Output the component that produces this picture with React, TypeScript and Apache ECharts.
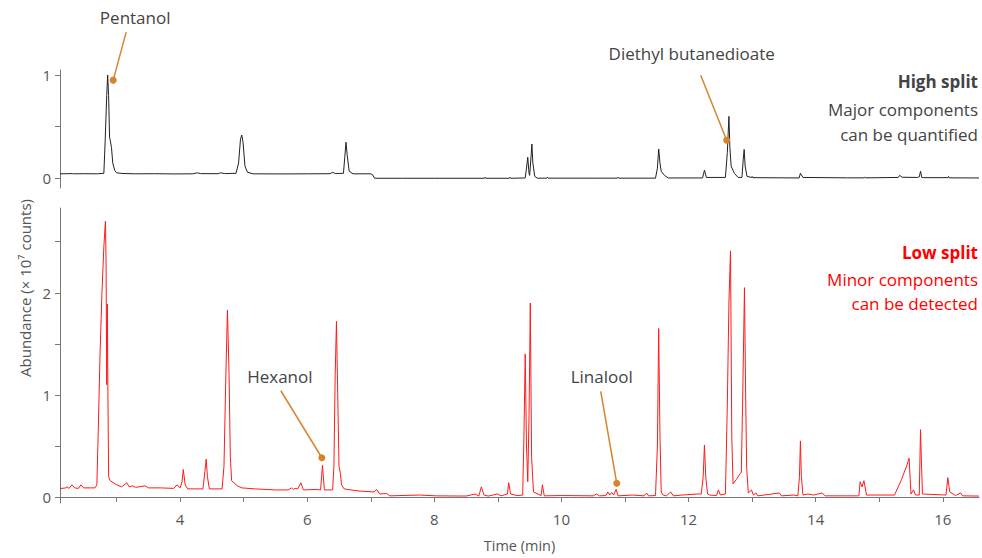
import React, { useEffect, useRef } from "react";
import * as echarts from "echarts";

// ---- Data ----
const highSplitTimes = [
  2.11, 2.3, 2.32, 2.5, 2.7, 2.8, 2.82, 2.845, 2.86, 2.875, 2.89, 2.9, 2.92, 2.94, 2.97, 3.0,
  3.1, 3.3, 3.6, 3.9, 4.2, 4.27, 4.32, 4.6, 4.64, 4.7, 4.88, 4.92, 4.95, 4.97, 4.99, 5.02,
  5.06, 5.15, 5.6, 6.0, 6.36, 6.4, 6.44, 6.57, 6.59, 6.61, 6.63, 6.66, 6.72, 7.0, 7.03, 7.06,
  7.5, 8.0, 8.79, 8.8, 8.81, 9.18, 9.19, 9.2, 9.43, 9.45, 9.47, 9.49, 9.5, 9.52, 9.535, 9.55,
  9.58, 9.62, 9.77, 9.78, 9.79, 10.5, 10.88, 10.89, 10.9, 11.48, 11.51, 11.53, 11.55, 11.57,
  11.62, 11.68, 12.22, 12.25, 12.28, 12.58, 12.61, 12.635, 12.65, 12.67, 12.72, 12.78, 12.84,
  12.86, 12.875, 12.89, 12.92, 12.99, 13.0, 13.01, 13.5, 13.74, 13.76, 13.8, 14.5, 14.76,
  14.77, 14.78, 15.3, 15.32, 15.36, 15.6, 15.63, 15.65, 15.67, 15.7, 16.08, 16.09, 16.1, 16.57,
];
const highSplitValues = [
  0.045, 0.047, 0.045, 0.046, 0.045, 0.05, 0.35, 0.8, 1.0, 0.8, 0.4, 0.37, 0.3, 0.15, 0.08, 0.055,
  0.048, 0.045, 0.046, 0.044, 0.045, 0.055, 0.047, 0.046, 0.055, 0.047, 0.05, 0.15, 0.38, 0.42, 0.35, 0.12,
  0.06, 0.045, 0.044, 0.045, 0.046, 0.06, 0.048, 0.05, 0.2, 0.35, 0.22, 0.07, 0.045, 0.045, 0.035, 0.002,
  0.002, 0.002, 0.002, 0.012, 0.002, 0.002, 0.012, 0.002, 0.005, 0.1, 0.205, 0.05, 0.03, 0.2, 0.333, 0.15,
  0.02, 0.003, 0.003, 0.012, 0.003, 0.003, 0.003, 0.012, 0.003, 0.003, 0.1, 0.285, 0.15, 0.07,
  0.03, 0.005, 0.005, 0.08, 0.01, 0.01, 0.25, 0.6, 0.3, 0.12, 0.05, 0.01, 0.01,
  0.18, 0.28, 0.12, 0.02, 0.01, 0.02, 0.008, 0.006, 0.005, 0.05, 0.01, 0.006, 0.006,
  0.015, 0.006, 0.01, 0.03, 0.012, 0.01, 0.015, 0.07, 0.01, 0.008, 0.008, 0.02, 0.006, 0.005,
];

const lowSplitTimes = [
  2.11, 2.2, 2.22, 2.25, 2.3, 2.34, 2.4, 2.44, 2.48, 2.6, 2.66, 2.69, 2.71, 2.74, 2.77, 2.8,
  2.825, 2.835, 2.845, 2.855, 2.862, 2.875, 2.9, 3.0, 3.08, 3.16, 3.2, 3.25, 3.3, 3.45, 3.5,
  3.69, 3.9, 3.95, 4.0, 4.03, 4.05, 4.08, 4.12, 4.36, 4.39, 4.41, 4.43, 4.46, 4.66, 4.69, 4.72,
  4.745, 4.77, 4.79, 4.81, 4.9, 4.97, 5.18, 5.5, 5.7, 5.75, 5.78, 5.81, 5.85, 5.9, 5.94, 6.14,
  6.21, 6.24, 6.27, 6.4, 6.42, 6.44, 6.46, 6.48, 6.5, 6.52, 6.54, 6.58, 6.8, 7.05, 7.09, 7.14,
  7.25, 7.3, 7.77, 8.03, 8.5, 8.64, 8.7, 8.74, 8.78, 8.85, 8.99, 9.05, 9.15, 9.17, 9.2, 9.3,
  9.39, 9.41, 9.43, 9.45, 9.47, 9.49, 9.51, 9.53, 9.56, 9.68, 9.7, 9.73, 10.0, 10.5, 10.55,
  10.6, 10.7, 10.73, 10.76, 10.79, 10.82, 10.86, 10.89, 11.12, 11.3, 11.34, 11.37, 11.48, 11.51,
  11.53, 11.55, 11.57, 11.6, 11.65, 11.72, 11.76, 11.9, 12.15, 12.2, 12.23, 12.25, 12.27, 12.3,
  12.33, 12.44, 12.47, 12.5, 12.58, 12.61, 12.635, 12.66, 12.68, 12.7, 12.75, 12.81, 12.83,
  12.85, 12.88, 12.9, 12.915, 12.94, 12.99, 13.02, 13.06, 13.09, 13.43, 13.46, 13.66, 13.72,
  13.745, 13.76, 13.775, 13.8, 13.88, 13.97, 14.1, 14.15, 14.5, 14.68, 14.7, 14.73, 14.76,
  14.8, 15.2, 15.24, 15.35, 15.44, 15.47, 15.5, 15.54, 15.57, 15.63, 15.65, 15.68, 16.05, 16.08,
  16.11, 16.2, 16.28, 16.31, 16.57,
];
const lowSplitValues = [
  0.083, 0.09, 0.1, 0.085, 0.12, 0.09, 0.085, 0.12, 0.09, 0.09, 0.09, 0.12, 0.6, 1.4, 2.0, 2.45,
  2.7, 2.3, 1.1, 1.89, 1.2, 0.2, 0.16, 0.12, 0.1, 0.14, 0.1, 0.11, 0.095, 0.11, 0.09,
  0.09, 0.085, 0.12, 0.09, 0.15, 0.27, 0.12, 0.08, 0.08, 0.25, 0.37, 0.2, 0.08, 0.08, 0.3, 1.2,
  1.83, 1.2, 0.4, 0.16, 0.11, 0.09, 0.08, 0.07, 0.07, 0.09, 0.075, 0.085, 0.08, 0.14, 0.07, 0.075,
  0.07, 0.31, 0.07, 0.07, 0.3, 1.2, 1.72, 1.0, 0.3, 0.24, 0.12, 0.08, 0.06, 0.05, 0.075, 0.03,
  0.035, 0.012, 0.02, 0.012, 0.01, 0.03, 0.01, 0.1, 0.02, 0.01, 0.03, 0.012, 0.03, 0.14, 0.03, 0.015,
  0.02, 0.6, 1.4, 0.5, 0.15, 0.8, 1.9, 0.4, 0.05, 0.015, 0.12, 0.012, 0.015, 0.012, 0.03,
  0.012, 0.015, 0.05, 0.02, 0.045, 0.02, 0.075, 0.012, 0.02, 0.012, 0.04, 0.012, 0.015, 0.5,
  1.65, 0.6, 0.05, 0.02, 0.012, 0.05, 0.012, 0.02, 0.03, 0.03, 0.2, 0.51, 0.2, 0.03,
  0.02, 0.015, 0.07, 0.02, 0.03, 0.9, 1.9, 2.41, 0.6, 0.13, 0.17, 0.23, 0.24,
  0.9, 2.05, 0.9, 0.28, 0.04, 0.07, 0.02, 0.04, 0.012, 0.04, 0.012, 0.02, 0.012,
  0.2, 0.55, 0.2, 0.02, 0.03, 0.02, 0.04, 0.012, 0.012, 0.012, 0.15, 0.1, 0.16,
  0.02, 0.02, 0.02, 0.17, 0.32, 0.38, 0.03, 0.07, 0.02, 0.02, 0.66, 0.03, 0.02, 0.19,
  0.05, 0.015, 0.04, 0.012, 0.01,
];

const xTickValues = [3, 4, 5, 6, 7, 8, 9, 10, 11, 12, 13, 14, 15, 16];
const xLabelValues = [4, 6, 8, 10, 12, 14, 16];
const highTickValues = [0, 0.5, 1];
const highLabelValues = [0, 1];
const lowTickValues = [0, 0.5, 1, 1.5, 2, 2.5];
const lowLabelValues = [0, 1, 2];

const annotationNames = ["Pentanol", "Diethyl butanedioate", "Hexanol", "Linalool"];
const annotationTimes = [2.947, 12.6, 6.23, 10.87];
const annotationValues = [0.95, 0.37, 0.385, 0.135];
const annotationPanels = [0, 0, 1, 1];

// layout offsets (pixels) of label and leader-line start relative to the dot
const labelOffsets = [
  [22, -63],
  [-35, -87],
  [-42, -81],
  [-15, -107],
];
const lineOffsets = [
  [13, -48],
  [-26, -65],
  [-41, -67],
  [-16, -92],
];

const FONT = "'Open Sans', 'Noto Sans', sans-serif";
const TEXT_GREY = "#555";
const ORANGE = "#d6852f";
const RED = "#ff1a1a";

const zip = (t: number[], v: number[]) => t.map((x, i) => [x, v[i]]);

export default function App() {
  const ref = useRef<HTMLDivElement>(null);

  useEffect(() => {
    if (!ref.current) return;
    const chart = echarts.init(ref.current, null, { renderer: "svg" });

    const xMin = 2.11;
    const xMax = 16.57;

    const axisLabel = { color: TEXT_GREY, fontSize: 15, fontFamily: FONT };

    chart.setOption({
      animation: false,
      backgroundColor: "#fff",
      grid: [
        { left: 60, right: 3, top: 70, height: 118 },
        { left: 60, right: 3, top: 208, height: 300 },
      ],
      xAxis: [
        {
          gridIndex: 0,
          type: "value",
          min: xMin,
          max: xMax,
          show: false,
        },
        {
          gridIndex: 1,
          type: "value",
          min: xMin,
          max: xMax,
          axisLine: { show: true, lineStyle: { color: "#777", width: 1 } },
          axisTick: {
            show: true,
            length: 5,
            customValues: xTickValues,
            lineStyle: { color: "#777" },
          },
          axisLabel: { ...axisLabel, margin: 8, customValues: xLabelValues },
          splitLine: { show: false },
          name: "Time (min)",
          nameLocation: "middle",
          nameGap: 35,
          nameTextStyle: { color: TEXT_GREY, fontSize: 14.5, fontFamily: FONT },
        },
      ],
      yAxis: [
        {
          gridIndex: 0,
          type: "value",
          min: -0.092,
          max: 1.048,
          axisLine: { show: true, lineStyle: { color: "#777", width: 1 } },
          axisTick: {
            show: true,
            length: 5,
            customValues: highTickValues,
            lineStyle: { color: "#777" },
          },
          axisLabel: { ...axisLabel, margin: 9, customValues: highLabelValues },
          splitLine: { show: false },
        },
        {
          gridIndex: 1,
          type: "value",
          min: -0.058,
          max: 2.83,
          axisLine: { show: true, lineStyle: { color: "#777", width: 1 } },
          axisTick: {
            show: true,
            length: 5,
            customValues: lowTickValues,
            lineStyle: { color: "#777" },
          },
          axisLabel: { ...axisLabel, margin: 9, customValues: lowLabelValues },
          splitLine: { show: false },
        },
      ],
      series: [
        {
          type: "line",
          name: "High split",
          xAxisIndex: 0,
          yAxisIndex: 0,
          data: zip(highSplitTimes, highSplitValues),
          showSymbol: false,
          lineStyle: { color: "#222", width: 1 },
          itemStyle: { color: "#222" },
        },
        {
          type: "line",
          name: "Low split",
          xAxisIndex: 1,
          yAxisIndex: 1,
          data: zip(lowSplitTimes, lowSplitValues),
          showSymbol: false,
          lineStyle: { color: RED, width: 1 },
          itemStyle: { color: RED },
        },
      ],
    });

    const graphics: any[] = [];
    annotationNames.forEach((name, i) => {
      const g = annotationPanels[i];
      const p = chart.convertToPixel(
        { xAxisIndex: g, yAxisIndex: g },
        [annotationTimes[i], annotationValues[i]]
      ) as number[];
      if (!p) return;
      const [px, py] = p;
      graphics.push({
        type: "line",
        shape: { x1: px + lineOffsets[i][0], y1: py + lineOffsets[i][1], x2: px, y2: py },
        style: { stroke: ORANGE, lineWidth: 1.5 },
        z: 10,
      });
      graphics.push({
        type: "circle",
        shape: { cx: px, cy: py, r: 3.5 },
        style: { fill: ORANGE },
        z: 11,
      });
      graphics.push({
        type: "text",
        x: px + labelOffsets[i][0],
        y: py + labelOffsets[i][1],
        style: {
          text: name,
          fill: "#444",
          font: `17px ${FONT}`,
          textAlign: "center",
          textVerticalAlign: "middle",
        },
        z: 11,
      });
    });

    const sideTexts = [
      { text: "High split", y: 81, bold: true, color: "#444" },
      { text: "Major components", y: 109, bold: false, color: "#444" },
      { text: "can be quantified", y: 134, bold: false, color: "#444" },
      { text: "Low split", y: 252, bold: true, color: "#ff0000" },
      { text: "Minor components", y: 279, bold: false, color: "#ff0000" },
      { text: "can be detected", y: 303, bold: false, color: "#ff0000" },
    ];
    sideTexts.forEach((s) => {
      graphics.push({
        type: "text",
        x: 978,
        y: s.y,
        style: {
          text: s.text,
          fill: s.color,
          font: `${s.bold ? "bold " : ""}17px ${FONT}`,
          textAlign: "right",
          textVerticalAlign: "middle",
        },
      });
    });

    graphics.push({
      type: "text",
      x: 25,
      y: 288,
      rotation: Math.PI / 2,
      style: {
        text: "Abundance (× 10⁷ counts)",
        fill: TEXT_GREY,
        font: `15px ${FONT}`,
        textAlign: "center",
        textVerticalAlign: "middle",
      },
    });

    chart.setOption({ graphic: graphics });

    return () => chart.dispose();
  }, []);

  return (
    <div
      ref={ref}
      style={{ position: "fixed", left: 0, top: 0, width: 982, height: 558 }}
    />
  );
}
